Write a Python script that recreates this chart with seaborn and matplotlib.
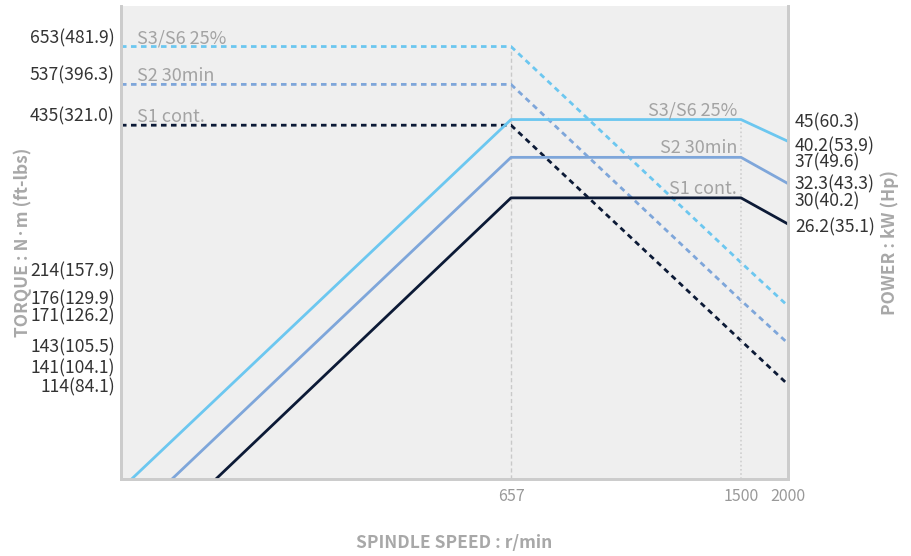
import numpy as np
import pandas as pd
import seaborn as sns
from matplotlib import pyplot as plt
from matplotlib.ticker import NullLocator

sns.set_style("white")
plt.rcParams['font.family'] = ['Noto Sans CJK KR', 'DejaVu Sans']

# 数据
series = ["S3/S6 25%", "S2 30min", "S1 cont."]
colors = ["#6cc7f0", "#7ea6da", "#0c1a36"]

# 转速节点 r/min
speed_ticks = [657, 1500, 2000]
power_start_speed = [18, 86, 160]     # 功率线在底边进入处的转速
power_floor = 7.0
power_base = [45, 37, 30]             # kW, 657~1500
power_end = [40.2, 32.3, 26.2]        # kW, 2000
torque_base = [653, 537, 435]         # N·m, 0~657
torque_1500 = [214, 176, 143]
torque_2000 = [171, 141, 114]

torque_labels = ["653(481.9)", "537(396.3)", "435(321.0)", "214(157.9)", "176(129.9)",
                 "171(126.2)", "143(105.5)", "141(104.1)", "114(84.1)"]
torque_label_vals = [653, 537, 435, 214, 176, 171, 143, 141, 114]
torque_label_dy = [8, 9, 9, -9, 1, -10, -7, -25, -3]

power_labels = ["45(60.3)", "40.2(53.9)", "37(49.6)", "32.3(43.3)", "30(40.2)", "26.2(35.1)"]
power_label_vals = [45, 40.2, 37, 32.3, 30, 26.2]
power_label_dy = [-3, -5, -5.5, -0.5, -4, -3]

# 表格
rows_p, rows_t = [], []
for i, s in enumerate(series):
    for sp, p in zip([power_start_speed[i], 657, 1500, 2000],
                     [power_floor, power_base[i], power_base[i], power_end[i]]):
        rows_p.append({"speed": sp, "power": p, "series": s})
    for sp, t in zip([0, 657, 1500, 2000],
                     [torque_base[i], torque_base[i], torque_1500[i], torque_2000[i]]):
        rows_t.append({"speed": sp, "torque": t, "series": s})
df_p = pd.DataFrame(rows_p)
df_t = pd.DataFrame(rows_t)

# 非线性的转速轴
x_nodes = [0, 657, 1500, 2000]
x_pos = [0, 390, 620, 667]


def fwd(v):
    return np.interp(v, x_nodes, x_pos)


def inv(v):
    return np.interp(v, x_pos, x_nodes)


fig = plt.figure(figsize=(9.11, 5.56), dpi=100)
ax = fig.add_axes([0.1328, 0.1385, 0.7322, 0.8507])
ax.set_facecolor("#efefef")
ax2 = ax.twinx()

ax.set_xscale("function", functions=(fwd, inv))
ax.set_yscale("log")
ax2.set_yscale("log")
ax.set_xlim(0, 2000)
ax.set_ylim(70, 805)
ax2.set_ylim(7.0, 81)

# 参考线
ax.vlines(657, 70, torque_base[0], colors="#c9c9c9", lw=1, linestyles=(0, (3, 2)), zorder=1)
ax2.vlines(1500, 7.0, power_base[0], colors="#cfcfcf", lw=1.2, linestyles=(0, (1, 1.5)), zorder=1)

sns.lineplot(data=df_t, x="speed", y="torque", hue="series", hue_order=series,
             palette=colors, estimator=None, sort=False, legend=False,
             lw=2, linestyle=(0, (2, 1.6)), ax=ax)
sns.lineplot(data=df_p, x="speed", y="power", hue="series", hue_order=series,
             palette=colors, estimator=None, sort=False, legend=False,
             lw=2, ax=ax2)

label_gray = "#a3a3a3"
for i, s in enumerate(series):
    ax.annotate(s, xy=(0, torque_base[i]), xycoords=ax.get_yaxis_transform(),
                xytext=(16, 3), textcoords="offset pixels", ha="left", va="baseline",
                color=label_gray, fontsize=13)
    ax2.annotate(s, xy=(1500, power_base[i]), xycoords="data",
                 xytext=(-4, 4), textcoords="offset pixels", ha="right", va="baseline",
                 color=label_gray, fontsize=13)

for t, v, dy in zip(torque_labels, torque_label_vals, torque_label_dy):
    ax.annotate(t, xy=(0, v), xycoords=ax.get_yaxis_transform(),
                xytext=(-6, dy), textcoords="offset pixels", ha="right", va="center",
                color="#333333", fontsize=12.6)
for t, v, dy in zip(power_labels, power_label_vals, power_label_dy):
    ax2.annotate(t, xy=(1, v), xycoords=ax2.get_yaxis_transform(),
                 xytext=(7, dy), textcoords="offset pixels", ha="left", va="center",
                 color="#333333", fontsize=12.6)

# 坐标轴样式
for a in (ax, ax2):
    a.yaxis.set_major_locator(NullLocator())
    a.yaxis.set_minor_locator(NullLocator())
    for side in ("left", "right", "bottom"):
        a.spines[side].set_color("#cccccc")
        a.spines[side].set_linewidth(2)
    a.spines["top"].set_visible(False)

ax.set_xticks(speed_ticks)
ax.set_xticklabels([str(v) for v in speed_ticks])
ax.xaxis.set_minor_locator(NullLocator())
ax.tick_params(axis="x", length=0, pad=6.5, labelsize=11.5, labelcolor="#999999")

title_kw = dict(color="#a8a8a8", fontsize=12.5, fontweight="bold")
ax.set_xlabel("SPINDLE SPEED : r/min", **title_kw)
ax.xaxis.set_label_coords(0.5, -0.116)
ax.set_ylabel("TORQUE : N·m (ft-lbs)", **title_kw)
ax.yaxis.set_label_coords(-0.133, 0.5)
ax2.set_ylabel("POWER : kW (Hp)", **title_kw)
ax2.yaxis.set_label_coords(1.138, 0.5)

plt.savefig("out.png", dpi=100)
